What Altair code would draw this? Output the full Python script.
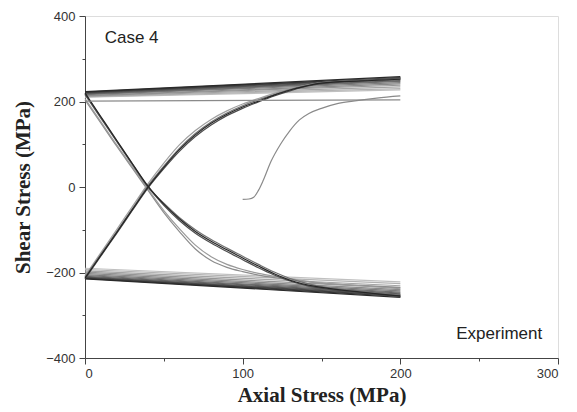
import altair as alt
import pandas as pd

# Shared axial-stress grid (MPa) for the diagonal branches
AXIAL_GRID = [0, 10, 20, 30, 40, 50, 60, 70, 80, 90, 100, 110, 120, 130, 140, 150, 175, 200]

# Unloading-type branches: from the upper-left corner down to the lower-right corner
DESC_MAIN = [220, 165, 110, 55, 2, -40, -75, -104, -127, -147, -166, -185, -203, -218, -228, -235, -246, -255]
DESC_B = [218, 163, 108, 54, 0, -43, -79, -108, -131, -151, -170, -189, -206, -220, -230, -237, -248, -257]
DESC_C = [216, 161, 107, 52, -1, -38, -72, -100, -123, -143, -162, -181, -199, -214, -225, -233, -244, -252]
DESC_THIN_A = [204, 150, 96, 44, -8, -60, -105, -145, -172, -188, -198, -206, -212, -217, -221, -225, -230, -235]
DESC_THIN_B = [207, 153, 99, 47, -5, -55, -98, -136, -163, -181, -193, -202, -209, -215, -220, -225, -231, -238]

# Loading-type branches: from the lower-left corner up to the upper-right corner
RISE_MAIN = [-213, -160, -107, -53, 0, 46, 88, 122, 149, 170, 187, 201, 215, 227, 236, 243, 248, 252]
RISE_B = [-215, -162, -109, -55, -2, 43, 84, 118, 145, 167, 184, 199, 213, 225, 235, 242, 249, 255]
RISE_C = [-211, -158, -105, -51, 3, 49, 91, 125, 152, 173, 190, 204, 216, 228, 237, 244, 250, 254]
RISE_THIN = [-208, -154, -100, -46, 8, 56, 99, 132, 158, 178, 194, 207, 219, 230, 238, 244, 249, 253]

# First loading path (axial held near 100 MPa, then raised to 200 MPa)
INIT_AXIAL = [100, 104, 107, 110, 113, 118, 124, 130, 136, 142, 150, 160, 170, 185, 200]
INIT_SHEAR = [-29, -28, -24, -8, 15, 60, 100, 132, 157, 172, 184, 195, 201, 208, 213]

# First return along the upper band
FIRST_TOP_AXIAL = [200, 0]
FIRST_TOP_SHEAR = [204, 201]

# Stabilised cycles: shear at axial 0 and 200 MPa on the upper and lower bands
TOP_LEFT = [223, 222, 221, 220, 219, 218, 217, 216, 214, 213, 212, 211, 210]
TOP_RIGHT = [258, 256, 255, 253, 251, 249, 247, 244, 241, 238, 234, 230, 227]
BOT_LEFT = [-215, -214, -213, -212, -211, -209, -207, -205, -202, -199, -196, -193, -190]
BOT_RIGHT = [-258, -256, -254, -252, -250, -248, -246, -243, -240, -236, -231, -226, -222]
BAND_SHADES = ["#2a2a2a", "#363636", "#424242", "#4e4e4e", "#5a5a5a", "#666666", "#727272",
               "#7e7e7e", "#8a8a8a", "#969696", "#a4a4a4", "#b2b2b2", "#c0c0c0"]

rows = []


def add_path(name, xs, ys, shade):
    for i, (xv, yv) in enumerate(zip(xs, ys)):
        rows.append({"path": name, "seq": i, "axial": xv, "shear": yv, "shade": shade})


# light strands first, dark strands drawn on top
k = 0
for i in reversed(range(len(TOP_LEFT))):
    add_path(f"p{k:02d}", [200, 0], [TOP_RIGHT[i], TOP_LEFT[i]], BAND_SHADES[i]); k += 1
    add_path(f"p{k:02d}", [200, 0], [BOT_RIGHT[i], BOT_LEFT[i]], BAND_SHADES[i]); k += 1

for ys, shade in [(DESC_THIN_A, "#8c8c8c"), (DESC_THIN_B, "#9a9a9a"), (RISE_THIN, "#a0a0a0"),
                  (DESC_C, "#707070"), (RISE_C, "#707070"), (DESC_B, "#4c4c4c"),
                  (RISE_B, "#4c4c4c"), (DESC_MAIN, "#262626"), (RISE_MAIN, "#262626")]:
    add_path(f"p{k:02d}", AXIAL_GRID, ys, shade); k += 1

add_path(f"p{k:02d}", INIT_AXIAL, INIT_SHEAR, "#8a8a8a"); k += 1
add_path(f"p{k:02d}", FIRST_TOP_AXIAL, FIRST_TOP_SHEAR, "#8a8a8a"); k += 1

df = pd.DataFrame(rows)

CASE_NOTE = pd.DataFrame({"label": ["Case 4"], "axial": [12.5], "shear": [348]})
SOURCE_NOTE = pd.DataFrame({"label": ["Experiment"], "axial": [290], "shear": [-344]})

x_scale = alt.Scale(domain=[0, 300], nice=False, zero=False)
y_scale = alt.Scale(domain=[-400, 400], nice=False, zero=False)

label_font = "Liberation Sans"
title_font = "Liberation Serif"

x_axis = alt.Axis(values=[0, 100, 200, 300], title="Axial Stress (MPa)", orient="bottom",
                  tickSize=6, labelPadding=3, titlePadding=4, grid=False,
                  labelFont=label_font, labelFontSize=13, labelColor="#333",
                  titleFont=title_font, titleFontSize=21, titleFontWeight="bold", titleColor="#222",
                  domainColor="#444", tickColor="#444")
y_axis = alt.Axis(values=[-400, -200, 0, 200, 400], title="Shear Stress (MPa)", orient="left",
                  tickSize=6, labelPadding=4, titlePadding=12, grid=False,
                  labelFont=label_font, labelFontSize=13, labelColor="#333",
                  titleFont=title_font, titleFontSize=21, titleFontWeight="bold", titleColor="#222",
                  domainColor="#444", tickColor="#444")

curves = alt.Chart(df).mark_line(strokeWidth=1.2, interpolate="monotone").encode(
    x=alt.X("axial:Q", scale=x_scale, axis=x_axis),
    y=alt.Y("shear:Q", scale=y_scale, axis=y_axis),
    detail="path:N",
    order="seq:Q",
    color=alt.Color("shade:N", scale=None),
)

# minor ticks halfway between the labelled ones
minor = alt.Chart(df).mark_point(opacity=0).encode(
    x=alt.X("axial:Q", scale=x_scale,
            axis=alt.Axis(values=[50, 150, 250], labels=False, title=None, orient="bottom",
                          tickSize=3, domain=False, grid=False, tickColor="#444")),
    y=alt.Y("shear:Q", scale=y_scale,
            axis=alt.Axis(values=[-300, -100, 100, 300], labels=False, title=None, orient="left",
                          tickSize=3, domain=False, grid=False, tickColor="#444")),
)

case_text = alt.Chart(CASE_NOTE).mark_text(
    font=label_font, fontSize=17, color="#222", align="left", baseline="middle").encode(
    x=alt.X("axial:Q", scale=x_scale, axis=None),
    y=alt.Y("shear:Q", scale=y_scale, axis=None),
    text="label:N",
)
source_text = alt.Chart(SOURCE_NOTE).mark_text(
    font=label_font, fontSize=17, color="#222", align="right", baseline="middle").encode(
    x=alt.X("axial:Q", scale=x_scale, axis=None),
    y=alt.Y("shear:Q", scale=y_scale, axis=None),
    text="label:N",
)

chart = alt.layer(curves, minor, case_text, source_text).resolve_axis(
    x="independent", y="independent").properties(
    width=473, height=342,
    autosize=alt.AutoSizeParams(type="none"),
    padding={"left": 85, "top": 16, "right": 19, "bottom": 54},
).configure_view(stroke="#444", strokeWidth=1).configure(background="white")

chart.save("out.html", embed_options={"renderer": "svg", "actions": False})
